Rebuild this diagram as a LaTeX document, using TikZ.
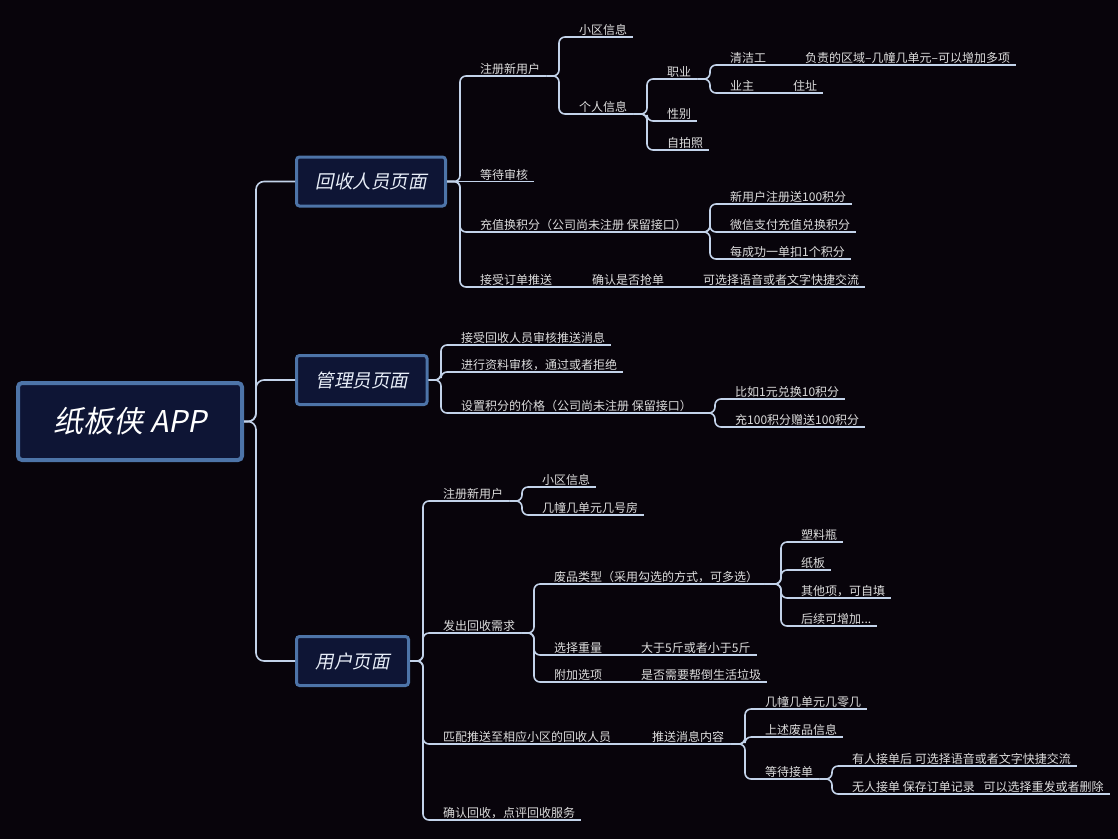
\documentclass[tikz,border=0pt]{standalone}
\usepackage{fontspec}
\setmainfont{Noto Sans CJK SC}
\newfontfamily\slantcjk[FakeSlant=0.2]{Noto Sans CJK SC}

\definecolor{bgdark}{HTML}{08040B}
\definecolor{linecol}{HTML}{C3D3EA}
\definecolor{leaftext}{HTML}{DCDCDC}
\definecolor{boxfill}{HTML}{0E1535}
\definecolor{boxedge}{HTML}{4D74A8}
\definecolor{boxtext}{HTML}{E8EEF8}

\tikzset{
  topic/.style={anchor=south west, inner xsep=6pt, inner ysep=0.8pt,
    text height=10.5pt, text depth=1.5pt, text=leaftext,
    font=\fontsize{12}{14}\selectfont},
  branch/.style={draw=linecol, line width=1.6pt, rounded corners=6pt},
  pagebox/.style={draw=boxedge, fill=boxfill, line width=3pt, rounded corners=3pt,
    anchor=west, minimum height=49pt, inner xsep=19pt, text=boxtext,
    font=\slantcjk\fontsize{18.5}{20}\selectfont},
  rootbox/.style={draw=boxedge, fill=boxfill, line width=4pt, rounded corners=4pt,
    minimum width=224pt, minimum height=77pt, text=white,
    font=\slantcjk\fontsize{30}{32}\selectfont},
}

\begin{document}
\begin{tikzpicture}[x=1pt,y=-1pt]
    \fill[bgdark] (0,0) rectangle (1118,839);
    \useasboundingbox (0,0) rectangle (1118,839);

    % root and page boxes
    \node[rootbox] (root) at (130,421.5) {纸板侠 APP};
    \node[pagebox] (recycler) at (295,181.5) {回收人员页面};
    \node[pagebox] (admin) at (295,380) {管理员页面};
    \node[pagebox] (user) at (295,661) {用户页面};

    % recycler page
    \node[topic] (rReg) at (474,76) {注册新用户};
    \node[topic] (rWait) at (474,181.5) {等待审核};
    \node[topic] (rPoints) at (474,232) {充值换积分（公司尚未注册 保留接口）};
    \node[topic] (rOrder) at (474,287) {接受订单推送};
    \node[topic] (rCommunity) at (573,37) {小区信息};
    \node[topic] (rPersonal) at (573,114) {个人信息};
    \node[topic] (rJob) at (661,79) {职业};
    \node[topic] (rGender) at (661,121) {性别};
    \node[topic] (rSelfie) at (661,150) {自拍照};
    \node[topic] (rCleaner) at (724,65) {清洁工};
    \node[topic] (rOwner) at (724,93) {业主};
    \node[topic] (rArea) at (799,65) {负责的区域–几幢几单元–可以增加多项};
    \node[topic] (rAddress) at (787,93) {住址};
    \node[topic] (rNewUser) at (724,204) {新用户注册送100积分};
    \node[topic] (rWechat) at (724,232) {微信支付充值兑换积分};
    \node[topic] (rDeduct) at (724,259) {每成功一单扣1个积分};
    \node[topic] (rGrab) at (586,287) {确认是否抢单};
    \node[topic] (rChat) at (697,287) {可选择语音或者文字快捷交流};

    % admin page
    \node[topic] (aPush) at (455,345) {接受回收人员审核推送消息};
    \node[topic] (aReview) at (455,372) {进行资料审核，通过或者拒绝};
    \node[topic] (aPrice) at (455,413) {设置积分的价格（公司尚未注册 保留接口）};
    \node[topic] (aEx1) at (729,399) {比如1元兑换10积分};
    \node[topic] (aEx2) at (729,427) {充100积分赠送100积分};

    % user page
    \node[topic] (uReg) at (437,501) {注册新用户};
    \node[topic] (uCommunity) at (536,487) {小区信息};
    \node[topic] (uRoom) at (536,515) {几幢几单元几号房};
    \node[topic] (uRequest) at (437,633) {发出回收需求};
    \node[topic] (uType) at (548,584) {废品类型（采用勾选的方式，可多选）};
    \node[topic] (uWeight) at (548,655) {选择重量};
    \node[topic] (uExtra) at (548,682) {附加选项};
    \node[topic] (uBottle) at (795,542) {塑料瓶};
    \node[topic] (uBoard) at (795,570) {纸板};
    \node[topic] (uOther) at (795,598) {其他项，可自填};
    \node[topic] (uMore) at (795,626) {后续可增加...};
    \node[topic] (uWeightVal) at (635,655) {大于5斤或者小于5斤};
    \node[topic] (uExtraVal) at (635,682) {是否需要帮倒生活垃圾};
    \node[topic] (uMatch) at (437,744) {匹配推送至相应小区的回收人员};
    \node[topic] (uContent) at (646,744) {推送消息内容};
    \node[topic] (uAddr) at (759,709) {几幢几单元几零几};
    \node[topic] (uInfo) at (759,737) {上述废品信息};
    \node[topic] (uWait) at (759,779) {等待接单};
    \node[topic] (uTaken) at (846,766) {有人接单后 可选择语音或者文字快捷交流};
    \node[topic] (uNone) at (846,794) {无人接单 保存订单记录\enspace\ 可以选择重发或者删除};
    \node[topic] (uConfirm) at (437,820) {确认回收，点评回收服务};

    % underlines
    \foreach \n in {rReg,rWait,rPoints,rOrder,rCommunity,rPersonal,rJob,rGender,
        rSelfie,rCleaner,rOwner,rArea,rAddress,rNewUser,rWechat,rDeduct,rGrab,rChat,
        aPush,aReview,aPrice,aEx1,aEx2,
        uReg,uCommunity,uRoom,uRequest,uType,uWeight,uExtra,uBottle,uBoard,uOther,
        uMore,uWeightVal,uExtraVal,uMatch,uContent,uAddr,uInfo,uWait,uTaken,uNone,uConfirm}
        \draw[branch] (\n.south west) -- (\n.south east);

    % root to pages
    \foreach \b in {recycler,admin,user}
        \draw[branch, rounded corners=8pt] (root.east) -| ([xshift=-39pt]\b.west) -- (\b.west);

    % pages to first level
    \foreach \b/\c in {recycler/rReg,recycler/rPoints,recycler/rOrder,
        admin/aPush,admin/aReview,admin/aPrice,
        user/uReg,user/uRequest,user/uMatch,user/uConfirm}
        \draw[branch] (\b.east) -| ([xshift=-14pt]\c.south west) -- (\c.south west);
    \draw[branch] (recycler.east) -- (rWait.south west);

    % topic to subtopics
    \foreach \p/\c in {rReg/rCommunity,rReg/rPersonal,rPersonal/rJob,rPersonal/rGender,
        rPersonal/rSelfie,rJob/rCleaner,rJob/rOwner,rPoints/rNewUser,rPoints/rWechat,
        rPoints/rDeduct,aPrice/aEx1,aPrice/aEx2,uReg/uCommunity,uReg/uRoom,
        uRequest/uType,uRequest/uWeight,uRequest/uExtra,uType/uBottle,uType/uBoard,
        uType/uOther,uType/uMore,uContent/uAddr,uContent/uInfo,uContent/uWait,
        uWait/uTaken,uWait/uNone}
        \draw[branch] (\p.south east) -| ([xshift=-14pt]\c.south west) -- (\c.south west);

    % single children in a row
    \foreach \p/\c in {rCleaner/rArea,rOwner/rAddress,rOrder/rGrab,rGrab/rChat,
        uWeight/uWeightVal,uExtra/uExtraVal,uMatch/uContent}
        \draw[branch] (\p.south east) -- (\c.south west);
\end{tikzpicture}
\end{document}
